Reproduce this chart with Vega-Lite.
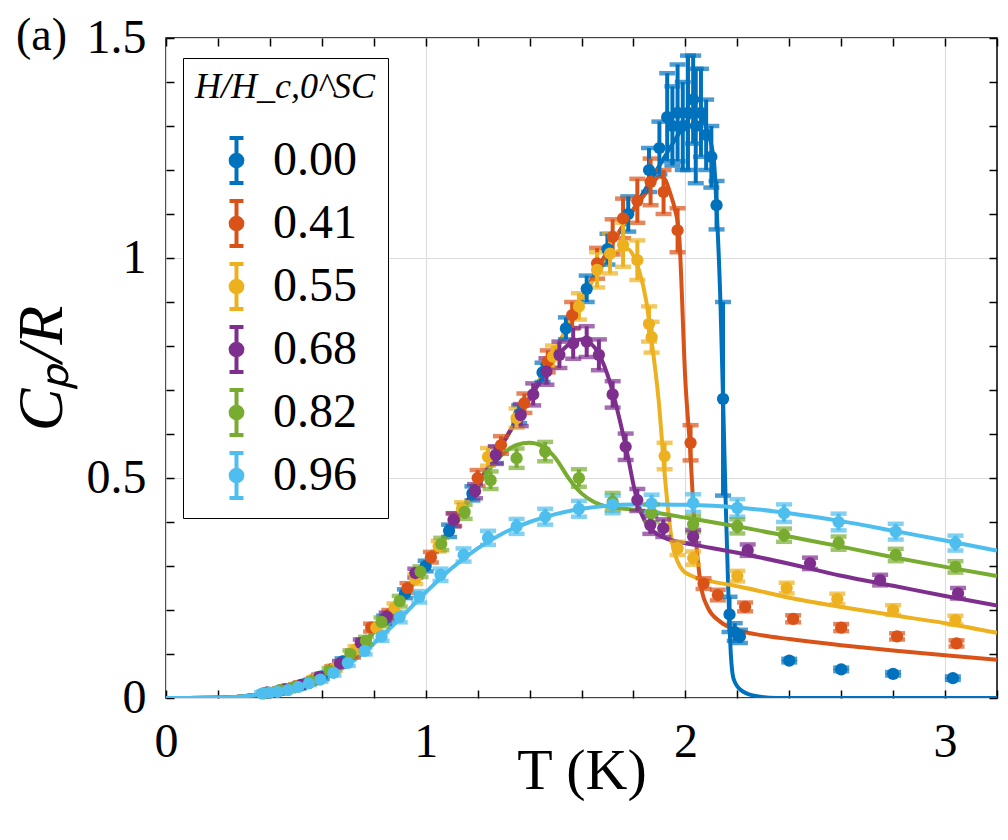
{
  "$schema": "https://vega.github.io/schema/vega-lite/v6.json",
  "width": 831,
  "height": 660,
  "autosize": "none",
  "padding": {"left": 166, "top": 38, "right": 11, "bottom": 142},
  "background": "white",
  "title": {
    "text": "(a)",
    "anchor": "start",
    "frame": "bounds",
    "orient": "top",
    "offset": -36,
    "dx": 6,
    "dy": 46,
    "baseline": "alphabetic",
    "font": "Liberation Serif",
    "fontSize": 46,
    "fontWeight": "normal",
    "color": "black"
  },
  "datasets": {
    "points": [
      {"H": "0.00", "T": 0.39, "C": 0.012, "e": 0.004},
      {"H": "0.00", "T": 0.46, "C": 0.020, "e": 0.004},
      {"H": "0.00", "T": 0.53, "C": 0.031, "e": 0.005},
      {"H": "0.00", "T": 0.60, "C": 0.049, "e": 0.006},
      {"H": "0.00", "T": 0.68, "C": 0.083, "e": 0.007},
      {"H": "0.00", "T": 0.76, "C": 0.125, "e": 0.008},
      {"H": "0.00", "T": 0.84, "C": 0.178, "e": 0.009},
      {"H": "0.00", "T": 0.92, "C": 0.237, "e": 0.010},
      {"H": "0.00", "T": 1.00, "C": 0.300, "e": 0.012},
      {"H": "0.00", "T": 1.09, "C": 0.380, "e": 0.014},
      {"H": "0.00", "T": 1.18, "C": 0.465, "e": 0.016},
      {"H": "0.00", "T": 1.27, "C": 0.552, "e": 0.018},
      {"H": "0.00", "T": 1.36, "C": 0.645, "e": 0.020},
      {"H": "0.00", "T": 1.45, "C": 0.740, "e": 0.022},
      {"H": "0.00", "T": 1.54, "C": 0.840, "e": 0.025},
      {"H": "0.00", "T": 1.62, "C": 0.930, "e": 0.030},
      {"H": "0.00", "T": 1.70, "C": 1.020, "e": 0.035},
      {"H": "0.00", "T": 1.78, "C": 1.100, "e": 0.040},
      {"H": "0.00", "T": 1.86, "C": 1.200, "e": 0.050},
      {"H": "0.00", "T": 1.90, "C": 1.250, "e": 0.060},
      {"H": "0.00", "T": 1.93, "C": 1.320, "e": 0.100},
      {"H": "0.00", "T": 1.95, "C": 1.300, "e": 0.090},
      {"H": "0.00", "T": 1.97, "C": 1.330, "e": 0.110},
      {"H": "0.00", "T": 1.99, "C": 1.300, "e": 0.100},
      {"H": "0.00", "T": 2.01, "C": 1.330, "e": 0.130},
      {"H": "0.00", "T": 2.03, "C": 1.360, "e": 0.100},
      {"H": "0.00", "T": 2.04, "C": 1.300, "e": 0.130},
      {"H": "0.00", "T": 2.06, "C": 1.330, "e": 0.100},
      {"H": "0.00", "T": 2.08, "C": 1.280, "e": 0.080},
      {"H": "0.00", "T": 2.10, "C": 1.230, "e": 0.070},
      {"H": "0.00", "T": 2.12, "C": 1.120, "e": 0.055},
      {"H": "0.00", "T": 2.145, "C": 0.680, "e": 0.220},
      {"H": "0.00", "T": 2.17, "C": 0.190, "e": 0.040},
      {"H": "0.00", "T": 2.19, "C": 0.150, "e": 0.020},
      {"H": "0.00", "T": 2.21, "C": 0.140, "e": 0.015},
      {"H": "0.00", "T": 2.40, "C": 0.085, "e": 0.004},
      {"H": "0.00", "T": 2.60, "C": 0.065, "e": 0.004},
      {"H": "0.00", "T": 2.80, "C": 0.055, "e": 0.004},
      {"H": "0.00", "T": 3.03, "C": 0.045, "e": 0.004},

      {"H": "0.41", "T": 0.38, "C": 0.011, "e": 0.003},
      {"H": "0.41", "T": 0.44, "C": 0.018, "e": 0.004},
      {"H": "0.41", "T": 0.50, "C": 0.027, "e": 0.004},
      {"H": "0.41", "T": 0.57, "C": 0.041, "e": 0.005},
      {"H": "0.41", "T": 0.64, "C": 0.066, "e": 0.006},
      {"H": "0.41", "T": 0.72, "C": 0.100, "e": 0.008},
      {"H": "0.41", "T": 0.79, "C": 0.160, "e": 0.009},
      {"H": "0.41", "T": 0.86, "C": 0.190, "e": 0.010},
      {"H": "0.41", "T": 0.93, "C": 0.250, "e": 0.011},
      {"H": "0.41", "T": 1.02, "C": 0.320, "e": 0.012},
      {"H": "0.41", "T": 1.11, "C": 0.405, "e": 0.014},
      {"H": "0.41", "T": 1.20, "C": 0.500, "e": 0.018},
      {"H": "0.41", "T": 1.29, "C": 0.575, "e": 0.020},
      {"H": "0.41", "T": 1.38, "C": 0.670, "e": 0.022},
      {"H": "0.41", "T": 1.47, "C": 0.765, "e": 0.025},
      {"H": "0.41", "T": 1.564, "C": 0.870, "e": 0.030},
      {"H": "0.41", "T": 1.66, "C": 0.988, "e": 0.035},
      {"H": "0.41", "T": 1.72, "C": 1.048, "e": 0.040},
      {"H": "0.41", "T": 1.76, "C": 1.090, "e": 0.045},
      {"H": "0.41", "T": 1.815, "C": 1.130, "e": 0.050},
      {"H": "0.41", "T": 1.866, "C": 1.173, "e": 0.053},
      {"H": "0.41", "T": 1.916, "C": 1.150, "e": 0.050},
      {"H": "0.41", "T": 1.97, "C": 1.063, "e": 0.050},
      {"H": "0.41", "T": 2.02, "C": 0.580, "e": 0.040},
      {"H": "0.41", "T": 2.07, "C": 0.260, "e": 0.012},
      {"H": "0.41", "T": 2.125, "C": 0.234, "e": 0.012},
      {"H": "0.41", "T": 2.23, "C": 0.207, "e": 0.010},
      {"H": "0.41", "T": 2.415, "C": 0.180, "e": 0.008},
      {"H": "0.41", "T": 2.60, "C": 0.160, "e": 0.008},
      {"H": "0.41", "T": 2.815, "C": 0.140, "e": 0.007},
      {"H": "0.41", "T": 3.044, "C": 0.124, "e": 0.007},

      {"H": "0.55", "T": 0.385, "C": 0.012, "e": 0.003},
      {"H": "0.55", "T": 0.45, "C": 0.019, "e": 0.004},
      {"H": "0.55", "T": 0.51, "C": 0.028, "e": 0.004},
      {"H": "0.55", "T": 0.58, "C": 0.045, "e": 0.005},
      {"H": "0.55", "T": 0.65, "C": 0.068, "e": 0.006},
      {"H": "0.55", "T": 0.73, "C": 0.110, "e": 0.008},
      {"H": "0.55", "T": 0.81, "C": 0.160, "e": 0.009},
      {"H": "0.55", "T": 0.88, "C": 0.205, "e": 0.010},
      {"H": "0.55", "T": 0.96, "C": 0.270, "e": 0.011},
      {"H": "0.55", "T": 1.05, "C": 0.345, "e": 0.012},
      {"H": "0.55", "T": 1.14, "C": 0.430, "e": 0.015},
      {"H": "0.55", "T": 1.24, "C": 0.548, "e": 0.020},
      {"H": "0.55", "T": 1.35, "C": 0.636, "e": 0.022},
      {"H": "0.55", "T": 1.49, "C": 0.776, "e": 0.025},
      {"H": "0.55", "T": 1.59, "C": 0.890, "e": 0.030},
      {"H": "0.55", "T": 1.66, "C": 0.973, "e": 0.040},
      {"H": "0.55", "T": 1.71, "C": 1.010, "e": 0.045},
      {"H": "0.55", "T": 1.76, "C": 1.030, "e": 0.050},
      {"H": "0.55", "T": 1.815, "C": 0.995, "e": 0.045},
      {"H": "0.55", "T": 1.86, "C": 0.850, "e": 0.040},
      {"H": "0.55", "T": 1.87, "C": 0.820, "e": 0.035},
      {"H": "0.55", "T": 1.92, "C": 0.550, "e": 0.030},
      {"H": "0.55", "T": 1.97, "C": 0.340, "e": 0.015},
      {"H": "0.55", "T": 2.03, "C": 0.318, "e": 0.015},
      {"H": "0.55", "T": 2.20, "C": 0.277, "e": 0.012},
      {"H": "0.55", "T": 2.39, "C": 0.250, "e": 0.012},
      {"H": "0.55", "T": 2.585, "C": 0.225, "e": 0.012},
      {"H": "0.55", "T": 2.80, "C": 0.200, "e": 0.011},
      {"H": "0.55", "T": 3.04, "C": 0.177, "e": 0.010},

      {"H": "0.68", "T": 0.39, "C": 0.012, "e": 0.003},
      {"H": "0.68", "T": 0.45, "C": 0.019, "e": 0.004},
      {"H": "0.68", "T": 0.52, "C": 0.030, "e": 0.004},
      {"H": "0.68", "T": 0.59, "C": 0.048, "e": 0.005},
      {"H": "0.68", "T": 0.67, "C": 0.078, "e": 0.006},
      {"H": "0.68", "T": 0.75, "C": 0.125, "e": 0.008},
      {"H": "0.68", "T": 0.85, "C": 0.185, "e": 0.009},
      {"H": "0.68", "T": 0.96, "C": 0.284, "e": 0.010},
      {"H": "0.68", "T": 1.107, "C": 0.405, "e": 0.015},
      {"H": "0.68", "T": 1.19, "C": 0.470, "e": 0.016},
      {"H": "0.68", "T": 1.27, "C": 0.552, "e": 0.020},
      {"H": "0.68", "T": 1.366, "C": 0.643, "e": 0.025},
      {"H": "0.68", "T": 1.414, "C": 0.690, "e": 0.025},
      {"H": "0.68", "T": 1.465, "C": 0.742, "e": 0.030},
      {"H": "0.68", "T": 1.515, "C": 0.780, "e": 0.030},
      {"H": "0.68", "T": 1.568, "C": 0.806, "e": 0.035},
      {"H": "0.68", "T": 1.62, "C": 0.810, "e": 0.035},
      {"H": "0.68", "T": 1.667, "C": 0.780, "e": 0.035},
      {"H": "0.68", "T": 1.72, "C": 0.690, "e": 0.030},
      {"H": "0.68", "T": 1.77, "C": 0.571, "e": 0.030},
      {"H": "0.68", "T": 1.815, "C": 0.450, "e": 0.025},
      {"H": "0.68", "T": 1.865, "C": 0.393, "e": 0.020},
      {"H": "0.68", "T": 1.915, "C": 0.386, "e": 0.020},
      {"H": "0.68", "T": 2.03, "C": 0.367, "e": 0.015},
      {"H": "0.68", "T": 2.24, "C": 0.336, "e": 0.013},
      {"H": "0.68", "T": 2.48, "C": 0.306, "e": 0.013},
      {"H": "0.68", "T": 2.75, "C": 0.268, "e": 0.012},
      {"H": "0.68", "T": 3.05, "C": 0.238, "e": 0.012},

      {"H": "0.82", "T": 0.38, "C": 0.011, "e": 0.003},
      {"H": "0.82", "T": 0.44, "C": 0.018, "e": 0.004},
      {"H": "0.82", "T": 0.50, "C": 0.026, "e": 0.004},
      {"H": "0.82", "T": 0.56, "C": 0.038, "e": 0.005},
      {"H": "0.82", "T": 0.63, "C": 0.062, "e": 0.006},
      {"H": "0.82", "T": 0.71, "C": 0.100, "e": 0.008},
      {"H": "0.82", "T": 0.77, "C": 0.130, "e": 0.009},
      {"H": "0.82", "T": 0.83, "C": 0.173, "e": 0.010},
      {"H": "0.82", "T": 0.90, "C": 0.220, "e": 0.012},
      {"H": "0.82", "T": 0.98, "C": 0.287, "e": 0.012},
      {"H": "0.82", "T": 1.06, "C": 0.350, "e": 0.014},
      {"H": "0.82", "T": 1.15, "C": 0.423, "e": 0.016},
      {"H": "0.82", "T": 1.25, "C": 0.495, "e": 0.020},
      {"H": "0.82", "T": 1.35, "C": 0.545, "e": 0.022},
      {"H": "0.82", "T": 1.46, "C": 0.560, "e": 0.022},
      {"H": "0.82", "T": 1.59, "C": 0.500, "e": 0.020},
      {"H": "0.82", "T": 1.72, "C": 0.446, "e": 0.020},
      {"H": "0.82", "T": 1.87, "C": 0.420, "e": 0.020},
      {"H": "0.82", "T": 2.03, "C": 0.395, "e": 0.018},
      {"H": "0.82", "T": 2.20, "C": 0.390, "e": 0.016},
      {"H": "0.82", "T": 2.38, "C": 0.370, "e": 0.015},
      {"H": "0.82", "T": 2.59, "C": 0.352, "e": 0.015},
      {"H": "0.82", "T": 2.81, "C": 0.325, "e": 0.014},
      {"H": "0.82", "T": 3.04, "C": 0.298, "e": 0.013},

      {"H": "0.96", "T": 0.37, "C": 0.010, "e": 0.003},
      {"H": "0.96", "T": 0.40, "C": 0.012, "e": 0.003},
      {"H": "0.96", "T": 0.43, "C": 0.014, "e": 0.003},
      {"H": "0.96", "T": 0.47, "C": 0.018, "e": 0.003},
      {"H": "0.96", "T": 0.51, "C": 0.025, "e": 0.004},
      {"H": "0.96", "T": 0.55, "C": 0.033, "e": 0.004},
      {"H": "0.96", "T": 0.595, "C": 0.042, "e": 0.005},
      {"H": "0.96", "T": 0.645, "C": 0.057, "e": 0.006},
      {"H": "0.96", "T": 0.70, "C": 0.080, "e": 0.007},
      {"H": "0.96", "T": 0.765, "C": 0.107, "e": 0.008},
      {"H": "0.96", "T": 0.83, "C": 0.140, "e": 0.010},
      {"H": "0.96", "T": 0.90, "C": 0.184, "e": 0.012},
      {"H": "0.96", "T": 0.975, "C": 0.230, "e": 0.013},
      {"H": "0.96", "T": 1.057, "C": 0.280, "e": 0.014},
      {"H": "0.96", "T": 1.146, "C": 0.325, "e": 0.015},
      {"H": "0.96", "T": 1.24, "C": 0.364, "e": 0.016},
      {"H": "0.96", "T": 1.35, "C": 0.390, "e": 0.017},
      {"H": "0.96", "T": 1.46, "C": 0.412, "e": 0.018},
      {"H": "0.96", "T": 1.59, "C": 0.430, "e": 0.018},
      {"H": "0.96", "T": 1.72, "C": 0.440, "e": 0.020},
      {"H": "0.96", "T": 1.87, "C": 0.442, "e": 0.020},
      {"H": "0.96", "T": 2.03, "C": 0.443, "e": 0.020},
      {"H": "0.96", "T": 2.20, "C": 0.432, "e": 0.020},
      {"H": "0.96", "T": 2.38, "C": 0.420, "e": 0.020},
      {"H": "0.96", "T": 2.59, "C": 0.400, "e": 0.019},
      {"H": "0.96", "T": 2.81, "C": 0.378, "e": 0.018},
      {"H": "0.96", "T": 3.04, "C": 0.352, "e": 0.017}
    ],
    "fits": [
      {"H": "0.00", "T": 0.0, "C": 0.0}, {"H": "0.00", "T": 0.2, "C": 0.0005}, {"H": "0.00", "T": 0.3, "C": 0.004},
      {"H": "0.00", "T": 0.4, "C": 0.011}, {"H": "0.00", "T": 0.5, "C": 0.024}, {"H": "0.00", "T": 0.6, "C": 0.048},
      {"H": "0.00", "T": 0.7, "C": 0.09}, {"H": "0.00", "T": 0.8, "C": 0.15}, {"H": "0.00", "T": 0.9, "C": 0.22},
      {"H": "0.00", "T": 1.0, "C": 0.30}, {"H": "0.00", "T": 1.1, "C": 0.39}, {"H": "0.00", "T": 1.2, "C": 0.485},
      {"H": "0.00", "T": 1.3, "C": 0.582}, {"H": "0.00", "T": 1.4, "C": 0.682}, {"H": "0.00", "T": 1.5, "C": 0.79},
      {"H": "0.00", "T": 1.6, "C": 0.905}, {"H": "0.00", "T": 1.7, "C": 1.015}, {"H": "0.00", "T": 1.8, "C": 1.11},
      {"H": "0.00", "T": 1.9, "C": 1.21}, {"H": "0.00", "T": 2.0, "C": 1.305}, {"H": "0.00", "T": 2.04, "C": 1.336},
      {"H": "0.00", "T": 2.06, "C": 1.325}, {"H": "0.00", "T": 2.084, "C": 1.29}, {"H": "0.00", "T": 2.11, "C": 1.22},
      {"H": "0.00", "T": 2.12, "C": 1.117}, {"H": "0.00", "T": 2.135, "C": 0.9}, {"H": "0.00", "T": 2.145, "C": 0.68},
      {"H": "0.00", "T": 2.155, "C": 0.45}, {"H": "0.00", "T": 2.165, "C": 0.25}, {"H": "0.00", "T": 2.175, "C": 0.1},
      {"H": "0.00", "T": 2.185, "C": 0.045}, {"H": "0.00", "T": 2.21, "C": 0.02}, {"H": "0.00", "T": 2.26, "C": 0.006},
      {"H": "0.00", "T": 2.35, "C": 0.0}, {"H": "0.00", "T": 3.2, "C": 0.0},

      {"H": "0.41", "T": 0.0, "C": 0.0}, {"H": "0.41", "T": 0.2, "C": 0.0005}, {"H": "0.41", "T": 0.3, "C": 0.004},
      {"H": "0.41", "T": 0.4, "C": 0.011}, {"H": "0.41", "T": 0.5, "C": 0.024}, {"H": "0.41", "T": 0.6, "C": 0.048},
      {"H": "0.41", "T": 0.7, "C": 0.09}, {"H": "0.41", "T": 0.8, "C": 0.15}, {"H": "0.41", "T": 0.9, "C": 0.22},
      {"H": "0.41", "T": 1.0, "C": 0.30}, {"H": "0.41", "T": 1.1, "C": 0.39}, {"H": "0.41", "T": 1.2, "C": 0.485},
      {"H": "0.41", "T": 1.3, "C": 0.582}, {"H": "0.41", "T": 1.4, "C": 0.682}, {"H": "0.41", "T": 1.5, "C": 0.79},
      {"H": "0.41", "T": 1.6, "C": 0.905}, {"H": "0.41", "T": 1.7, "C": 1.015}, {"H": "0.41", "T": 1.8, "C": 1.11},
      {"H": "0.41", "T": 1.85, "C": 1.15}, {"H": "0.41", "T": 1.88, "C": 1.175}, {"H": "0.41", "T": 1.9, "C": 1.185},
      {"H": "0.41", "T": 1.92, "C": 1.18}, {"H": "0.41", "T": 1.94, "C": 1.15}, {"H": "0.41", "T": 1.96, "C": 1.11},
      {"H": "0.41", "T": 1.975, "C": 1.06}, {"H": "0.41", "T": 2.0, "C": 0.72}, {"H": "0.41", "T": 2.02, "C": 0.55},
      {"H": "0.41", "T": 2.03, "C": 0.44}, {"H": "0.41", "T": 2.045, "C": 0.33}, {"H": "0.41", "T": 2.06, "C": 0.255},
      {"H": "0.41", "T": 2.085, "C": 0.207}, {"H": "0.41", "T": 2.135, "C": 0.173}, {"H": "0.41", "T": 2.2, "C": 0.155},
      {"H": "0.41", "T": 2.3, "C": 0.142}, {"H": "0.41", "T": 2.4, "C": 0.134}, {"H": "0.41", "T": 2.6, "C": 0.12},
      {"H": "0.41", "T": 2.8, "C": 0.108}, {"H": "0.41", "T": 3.0, "C": 0.097}, {"H": "0.41", "T": 3.2, "C": 0.087},

      {"H": "0.55", "T": 0.0, "C": 0.0}, {"H": "0.55", "T": 0.2, "C": 0.0005}, {"H": "0.55", "T": 0.3, "C": 0.004},
      {"H": "0.55", "T": 0.4, "C": 0.011}, {"H": "0.55", "T": 0.5, "C": 0.024}, {"H": "0.55", "T": 0.6, "C": 0.048},
      {"H": "0.55", "T": 0.7, "C": 0.09}, {"H": "0.55", "T": 0.8, "C": 0.15}, {"H": "0.55", "T": 0.9, "C": 0.22},
      {"H": "0.55", "T": 1.0, "C": 0.30}, {"H": "0.55", "T": 1.1, "C": 0.39}, {"H": "0.55", "T": 1.2, "C": 0.485},
      {"H": "0.55", "T": 1.3, "C": 0.582}, {"H": "0.55", "T": 1.4, "C": 0.682}, {"H": "0.55", "T": 1.5, "C": 0.79},
      {"H": "0.55", "T": 1.6, "C": 0.905}, {"H": "0.55", "T": 1.65, "C": 0.955}, {"H": "0.55", "T": 1.7, "C": 0.995},
      {"H": "0.55", "T": 1.75, "C": 1.018}, {"H": "0.55", "T": 1.78, "C": 1.02}, {"H": "0.55", "T": 1.8, "C": 1.005},
      {"H": "0.55", "T": 1.82, "C": 0.975}, {"H": "0.55", "T": 1.85, "C": 0.9}, {"H": "0.55", "T": 1.866, "C": 0.83},
      {"H": "0.55", "T": 1.897, "C": 0.677}, {"H": "0.55", "T": 1.923, "C": 0.49}, {"H": "0.55", "T": 1.95, "C": 0.35},
      {"H": "0.55", "T": 1.97, "C": 0.31}, {"H": "0.55", "T": 1.99, "C": 0.29}, {"H": "0.55", "T": 2.03, "C": 0.276},
      {"H": "0.55", "T": 2.1, "C": 0.265}, {"H": "0.55", "T": 2.21, "C": 0.253}, {"H": "0.55", "T": 2.4, "C": 0.228},
      {"H": "0.55", "T": 2.6, "C": 0.207}, {"H": "0.55", "T": 2.8, "C": 0.188}, {"H": "0.55", "T": 3.0, "C": 0.17},
      {"H": "0.55", "T": 3.2, "C": 0.148},

      {"H": "0.68", "T": 0.0, "C": 0.0}, {"H": "0.68", "T": 0.2, "C": 0.0005}, {"H": "0.68", "T": 0.3, "C": 0.004},
      {"H": "0.68", "T": 0.4, "C": 0.011}, {"H": "0.68", "T": 0.5, "C": 0.024}, {"H": "0.68", "T": 0.6, "C": 0.048},
      {"H": "0.68", "T": 0.7, "C": 0.09}, {"H": "0.68", "T": 0.8, "C": 0.15}, {"H": "0.68", "T": 0.9, "C": 0.22},
      {"H": "0.68", "T": 1.0, "C": 0.30}, {"H": "0.68", "T": 1.1, "C": 0.39}, {"H": "0.68", "T": 1.2, "C": 0.485},
      {"H": "0.68", "T": 1.3, "C": 0.582}, {"H": "0.68", "T": 1.35, "C": 0.632}, {"H": "0.68", "T": 1.4, "C": 0.68},
      {"H": "0.68", "T": 1.45, "C": 0.728}, {"H": "0.68", "T": 1.5, "C": 0.772}, {"H": "0.68", "T": 1.55, "C": 0.803},
      {"H": "0.68", "T": 1.6, "C": 0.815}, {"H": "0.68", "T": 1.65, "C": 0.797}, {"H": "0.68", "T": 1.7, "C": 0.735},
      {"H": "0.68", "T": 1.75, "C": 0.625}, {"H": "0.68", "T": 1.78, "C": 0.545}, {"H": "0.68", "T": 1.8, "C": 0.485},
      {"H": "0.68", "T": 1.83, "C": 0.42}, {"H": "0.68", "T": 1.86, "C": 0.388}, {"H": "0.68", "T": 1.9, "C": 0.37},
      {"H": "0.68", "T": 1.95, "C": 0.358}, {"H": "0.68", "T": 2.0, "C": 0.352}, {"H": "0.68", "T": 2.1, "C": 0.341},
      {"H": "0.68", "T": 2.2, "C": 0.33}, {"H": "0.68", "T": 2.4, "C": 0.305}, {"H": "0.68", "T": 2.6, "C": 0.278},
      {"H": "0.68", "T": 2.8, "C": 0.255}, {"H": "0.68", "T": 3.0, "C": 0.232}, {"H": "0.68", "T": 3.2, "C": 0.21},

      {"H": "0.82", "T": 0.0, "C": 0.0}, {"H": "0.82", "T": 0.2, "C": 0.0005}, {"H": "0.82", "T": 0.3, "C": 0.004},
      {"H": "0.82", "T": 0.4, "C": 0.011}, {"H": "0.82", "T": 0.5, "C": 0.024}, {"H": "0.82", "T": 0.6, "C": 0.048},
      {"H": "0.82", "T": 0.7, "C": 0.09}, {"H": "0.82", "T": 0.8, "C": 0.15}, {"H": "0.82", "T": 0.9, "C": 0.22},
      {"H": "0.82", "T": 1.0, "C": 0.30}, {"H": "0.82", "T": 1.1, "C": 0.39}, {"H": "0.82", "T": 1.15, "C": 0.435},
      {"H": "0.82", "T": 1.2, "C": 0.48}, {"H": "0.82", "T": 1.25, "C": 0.523}, {"H": "0.82", "T": 1.3, "C": 0.556},
      {"H": "0.82", "T": 1.35, "C": 0.575}, {"H": "0.82", "T": 1.4, "C": 0.58}, {"H": "0.82", "T": 1.45, "C": 0.572},
      {"H": "0.82", "T": 1.5, "C": 0.545}, {"H": "0.82", "T": 1.55, "C": 0.5}, {"H": "0.82", "T": 1.6, "C": 0.465},
      {"H": "0.82", "T": 1.65, "C": 0.445}, {"H": "0.82", "T": 1.7, "C": 0.435}, {"H": "0.82", "T": 1.8, "C": 0.428},
      {"H": "0.82", "T": 1.9, "C": 0.42}, {"H": "0.82", "T": 2.0, "C": 0.41}, {"H": "0.82", "T": 2.1, "C": 0.4},
      {"H": "0.82", "T": 2.2, "C": 0.39}, {"H": "0.82", "T": 2.4, "C": 0.367}, {"H": "0.82", "T": 2.6, "C": 0.344},
      {"H": "0.82", "T": 2.8, "C": 0.32}, {"H": "0.82", "T": 3.0, "C": 0.298}, {"H": "0.82", "T": 3.2, "C": 0.277},

      {"H": "0.96", "T": 0.0, "C": 0.0}, {"H": "0.96", "T": 0.2, "C": 0.0005}, {"H": "0.96", "T": 0.3, "C": 0.004},
      {"H": "0.96", "T": 0.4, "C": 0.011}, {"H": "0.96", "T": 0.5, "C": 0.022}, {"H": "0.96", "T": 0.6, "C": 0.042},
      {"H": "0.96", "T": 0.7, "C": 0.075}, {"H": "0.96", "T": 0.8, "C": 0.124}, {"H": "0.96", "T": 0.9, "C": 0.18},
      {"H": "0.96", "T": 1.0, "C": 0.24}, {"H": "0.96", "T": 1.1, "C": 0.295}, {"H": "0.96", "T": 1.2, "C": 0.34},
      {"H": "0.96", "T": 1.3, "C": 0.375}, {"H": "0.96", "T": 1.4, "C": 0.4}, {"H": "0.96", "T": 1.5, "C": 0.418},
      {"H": "0.96", "T": 1.6, "C": 0.43}, {"H": "0.96", "T": 1.7, "C": 0.437}, {"H": "0.96", "T": 1.8, "C": 0.44},
      {"H": "0.96", "T": 1.9, "C": 0.44}, {"H": "0.96", "T": 2.0, "C": 0.439}, {"H": "0.96", "T": 2.2, "C": 0.433},
      {"H": "0.96", "T": 2.4, "C": 0.42}, {"H": "0.96", "T": 2.6, "C": 0.402}, {"H": "0.96", "T": 2.8, "C": 0.38},
      {"H": "0.96", "T": 3.0, "C": 0.358}, {"H": "0.96", "T": 3.2, "C": 0.335}
    ]
  },
  "layer": [
    {
      "data": {"name": "fits"},
      "mark": {"type": "line", "strokeWidth": 4, "interpolate": "monotone", "clip": true},
      "encoding": {
        "x": {
          "field": "T", "type": "quantitative",
          "scale": {"domain": [0, 3.2], "nice": false, "zero": false},
          "axis": {
            "orient": "bottom",
            "values": [0, 0.2, 0.4, 0.6, 0.8, 1, 1.2, 1.4, 1.6, 1.8, 2, 2.2, 2.4, 2.6, 2.8, 3, 3.2],
            "labelExpr": "abs(datum.value - round(datum.value)) < 0.001 ? format(datum.value, 'd') : ''",
            "title": "T (K)",
            "titleFont": "Liberation Serif", "titleFontSize": 58, "titleFontWeight": "normal",
            "titleColor": "black", "titlePadding": -24,
            "labelFont": "Liberation Serif", "labelFontSize": 48, "labelColor": "black",
            "labelPadding": 28, "labelOverlap": false, "labelFlush": false, "labelBound": false,
            "tickSize": -8, "tickColor": "black", "tickWidth": 1.5,
            "domain": false,
            "grid": true, "gridColor": "#dcdcdc", "gridWidth": 1.2,
            "gridOpacity": {"condition": {"test": "abs(datum.value - round(datum.value)) < 0.001", "value": 1}, "value": 0}
          }
        },
        "y": {
          "field": "C", "type": "quantitative",
          "scale": {"domain": [0, 1.5], "nice": false},
          "axis": {
            "orient": "left",
            "values": [0, 0.1, 0.2, 0.3, 0.4, 0.5, 0.6, 0.7, 0.8, 0.9, 1, 1.1, 1.2, 1.3, 1.4, 1.5],
            "labelExpr": "abs(datum.value * 2 - round(datum.value * 2)) < 0.001 ? format(datum.value, '~g') : ''",
            "title": "Cₚ/R",
            "titleFont": "Liberation Serif", "titleFontSize": 64, "titleFontWeight": "normal",
            "titleFontStyle": "italic", "titleColor": "black", "titlePadding": 12,
            "labelFont": "Liberation Serif", "labelFontSize": 48, "labelColor": "black",
            "labelPadding": 28, "labelOverlap": false, "labelFlush": false, "labelBound": false,
            "tickSize": -8, "tickColor": "black", "tickWidth": 1.5,
            "domain": false,
            "grid": true, "gridColor": "#dcdcdc", "gridWidth": 1.2,
            "gridOpacity": {"condition": {"test": "abs(datum.value * 2 - round(datum.value * 2)) < 0.001", "value": 1}, "value": 0}
          }
        },
        "color": {
          "field": "H", "type": "nominal", "title": "H/H_c,0^SC",
          "scale": {"domain": ["0.00", "0.41", "0.55", "0.68", "0.82", "0.96"],
                    "range": ["#0072BD", "#D95319", "#EDB120", "#7E2F8E", "#77AC30", "#4DBEEE"]},
          "legend": {
            "orient": "none", "legendX": 17, "legendY": 20,
            "titleFont": "Liberation Serif", "titleFontStyle": "italic", "titleFontSize": 36,
            "titleFontWeight": "normal", "titleColor": "black", "titleAnchor": "middle", "titlePadding": 30,
            "titleLimit": 400,
            "labelFont": "Liberation Serif", "labelFontSize": 48, "labelColor": "black", "labelOffset": 12,
            "symbolType": "M0,-1L0,1M-0.31,-1L0.31,-1M-0.31,1L0.31,1M-0.26,0A0.26,0.26,0,1,1,0.26,0A0.26,0.26,0,1,1,-0.26,0Z",
            "symbolSize": 2025, "symbolStrokeWidth": 4, "symbolOpacity": 1,
            "rowPadding": 2, "padding": 12,
            "strokeColor": "black", "fillColor": "white",
            "encode": {"symbols": {"update": {
              "stroke": {"scale": "color", "field": "value"},
              "fill": {"scale": "color", "field": "value"},
              "strokeWidth": {"value": 4},
              "opacity": {"value": 1}
            }}}
          }
        }
      }
    },
    {
      "data": {"name": "points"},
      "mark": {"type": "errorbar", "thickness": 4, "ticks": {"size": 16, "thickness": 4.5}},
      "encoding": {
        "x": {"field": "T", "type": "quantitative", "axis": null},
        "y": {"field": "C", "type": "quantitative", "axis": null},
        "yError": {"field": "e"},
        "color": {"field": "H", "type": "nominal", "title": "H/H_c,0^SC"}
      }
    },
    {
      "data": {"name": "points"},
      "mark": {"type": "circle", "size": 150, "opacity": 1},
      "encoding": {
        "x": {"field": "T", "type": "quantitative", "axis": null},
        "y": {"field": "C", "type": "quantitative", "axis": null},
        "color": {"field": "H", "type": "nominal", "title": "H/H_c,0^SC"}
      }
    },
    {
      "data": {"name": "fits"},
      "mark": {"type": "point", "opacity": 0},
      "encoding": {
        "x": {"field": "T", "type": "quantitative",
          "axis": {"orient": "top", "values": [0, 0.2, 0.4, 0.6, 0.8, 1, 1.2, 1.4, 1.6, 1.8, 2, 2.2, 2.4, 2.6, 2.8, 3, 3.2],
                   "labels": false, "title": null, "domain": false, "grid": false,
                   "tickSize": -8, "tickColor": "black", "tickWidth": 1.5}},
        "y": {"field": "C", "type": "quantitative",
          "axis": {"orient": "right", "values": [0, 0.1, 0.2, 0.3, 0.4, 0.5, 0.6, 0.7, 0.8, 0.9, 1, 1.1, 1.2, 1.3, 1.4, 1.5],
                   "labels": false, "title": null, "domain": false, "grid": false,
                   "tickSize": -8, "tickColor": "black", "tickWidth": 1.5}}
      }
    }
  ],
  "resolve": {"axis": {"x": "independent", "y": "independent"}},
  "config": {
    "view": {"stroke": "black", "strokeWidth": 1.5},
    "font": "Liberation Serif"
  }
}
